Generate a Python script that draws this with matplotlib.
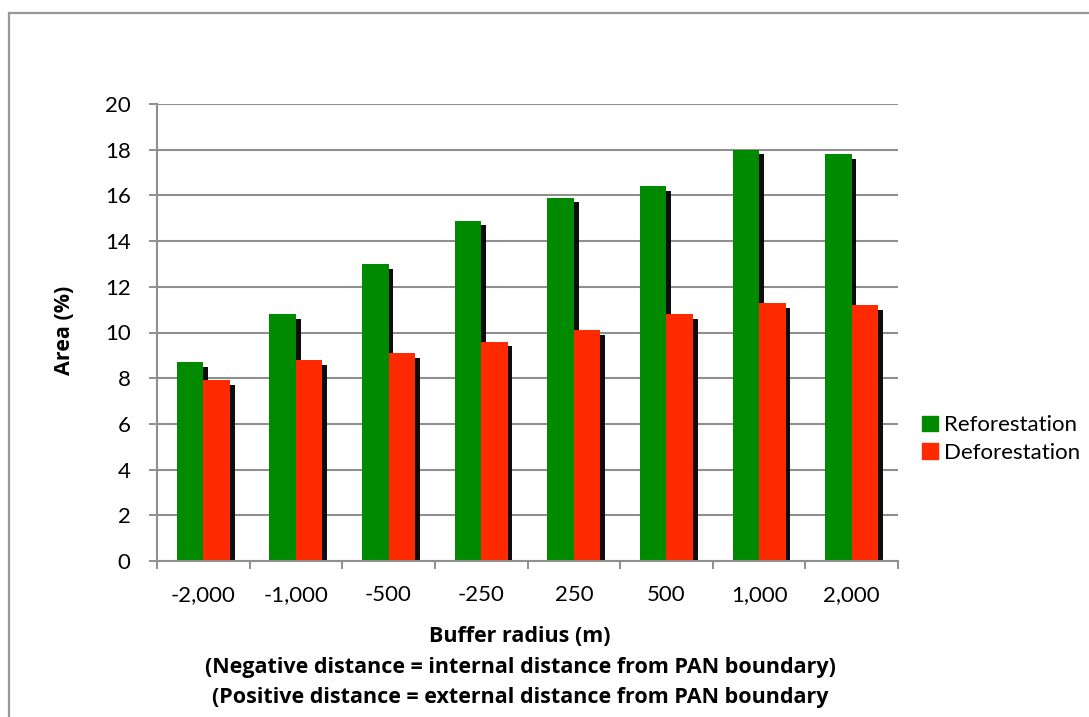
import matplotlib
matplotlib.use("Agg")
import matplotlib.pyplot as plt
import matplotlib.patheffects as pe
from matplotlib.lines import Line2D
from matplotlib.patches import Patch
import numpy as np

plt.rcParams["font.family"] = ["Lato", "DejaVu Sans"]

# ---- data: share of buffer area that changed (%) ----
buffers = ["-2,000", "-1,000", "-500", "-250", "250", "500", "1,000", "2,000"]
reforestation = [8.7, 10.8, 13.0, 14.9, 15.9, 16.4, 18.0, 17.8]
deforestation = [7.9, 8.8, 9.1, 9.6, 10.1, 10.8, 11.3, 11.2]

GREEN = "#008a00"
RED = "#ff2a00"
GRID = "#8f8f8f"
BOLD_FONT = ["Open Sans", "DejaVu Sans"]

W, H = 1089, 717
fig = plt.figure(figsize=(W / 100, H / 100), dpi=100)
ax = fig.add_axes([157 / W, 1 - 561 / H, (898 - 157) / W, (561 - 104) / H])

x = np.arange(len(buffers))
bw = 0.286
shadow = [pe.SimplePatchShadow(offset=(3.4, -3.4), shadow_rgbFace="black", alpha=0.95),
          pe.Normal()]
ax.bar(x - bw / 2, reforestation, bw, color=GREEN, path_effects=shadow, zorder=2)
ax.bar(x + bw / 2, deforestation, bw, color=RED, path_effects=shadow, zorder=2)

ax.set_xlim(-0.5, len(buffers) - 0.5)
ax.set_ylim(0, 20)
ax.set_yticks(np.arange(0, 21, 2))
ax.set_xticks(x)
ax.set_xticklabels(buffers)
ax.set_xticks(np.arange(-0.5, len(buffers)), minor=True)
ax.tick_params(axis="x", which="major", length=0, pad=17, labelsize=16)
ax.tick_params(axis="x", which="minor", length=6, width=1.4, color=GRID, direction="out")
ax.tick_params(axis="y", length=6, width=1.4, color=GRID, pad=13, labelsize=16)

ax.yaxis.grid(True, color=GRID, lw=1.5)
ax.set_axisbelow(True)
for side in ("top", "right"):
    ax.spines[side].set_visible(False)
for side in ("left", "bottom"):
    ax.spines[side].set_color(GRID)
    ax.spines[side].set_linewidth(1.5)
    ax.spines[side].set_zorder(3)

# axis titles
fig.text(65 / W, 1 - 330 / H, "Area (%)", rotation=90, ha="center", va="center",
         fontsize=15.5, fontweight="bold", family=BOLD_FONT)
xtitle = ["Buffer radius (m)",
          "(Negative distance = internal distance from PAN boundary)",
          "(Positive distance = external distance from PAN boundary"]
for i, line in enumerate(xtitle):
    fig.text(520 / W, 1 - (637 + 30 * i) / H, line, ha="center", va="center",
             fontsize=15.5, fontweight="bold", family=BOLD_FONT)

handles = [Patch(color=GREEN, label="Reforestation"),
           Patch(color=RED, label="Deforestation")]
fig.legend(handles=handles, loc="center left", bbox_to_anchor=(922 / W, 1 - 439 / H),
           frameon=False, fontsize=16, handlelength=0.7, handleheight=0.7,
           handletextpad=0.3, labelspacing=0.35, borderpad=0, borderaxespad=0)

# outer chart frame
fig.add_artist(Line2D([9 / W, 1], [1 - 13 / H] * 2, color="#999999", lw=1.6))
fig.add_artist(Line2D([9 / W] * 2, [0, 1 - 13 / H], color="#999999", lw=1.6))

fig.savefig("out.png", dpi=100)
